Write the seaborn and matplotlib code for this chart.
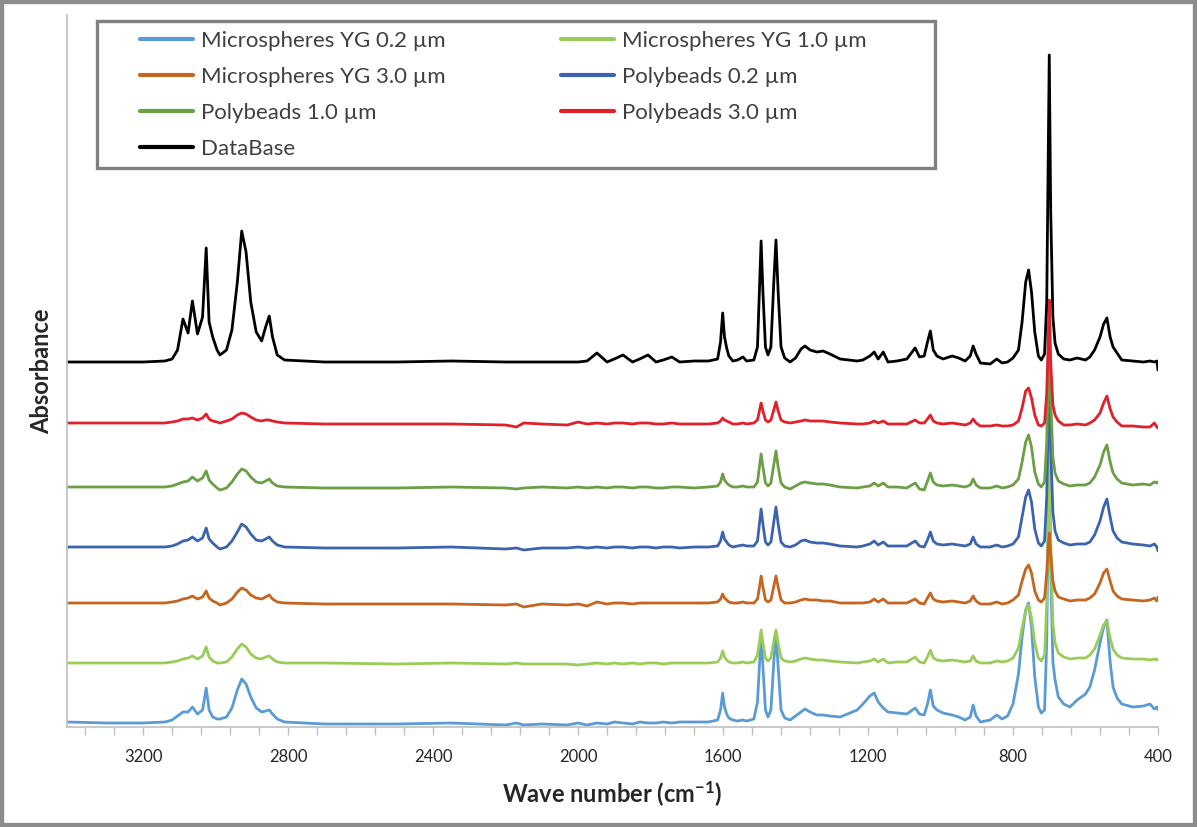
import matplotlib
matplotlib.use("Agg")
import pandas as pd
import matplotlib.pyplot as plt
import seaborn as sns
from matplotlib.patches import Rectangle

# wave numbers (cm-1), descending
wavenumber = [
    # C-H stretch region
    3410, 3300, 3200, 3140, 3120, 3105, 3090, 3076, 3064, 3050, 3036, 3026, 3018, 3008, 2996,
    2988, 2970, 2955, 2940, 2928, 2916, 2903, 2888, 2873, 2862, 2852, 2843, 2830, 2810,
    # overtone region
    2700, 2500, 2350, 2200, 2170, 2150, 2100, 2030, 2000, 1975, 1948, 1920, 1900, 1876, 1850,
    1830, 1807, 1785, 1765, 1741, 1720, 1680, 1640,
    # ring modes
    1615, 1607, 1601, 1596, 1590, 1584, 1573, 1560, 1545, 1535, 1515, 1505, 1499, 1495, 1490,
    1483, 1476, 1468, 1460, 1454, 1448, 1440, 1430, 1415,
    # fingerprint
    1400, 1385, 1374, 1360, 1341, 1324, 1305, 1277, 1230, 1214, 1195, 1183, 1172, 1158, 1145,
    1120, 1093, 1070, 1058, 1045, 1036, 1028, 1020, 1010, 993, 968, 950, 932, 918, 910,
    902, 890, 863, 845,
    # low region
    830, 815, 800, 785, 775, 765, 757, 749, 740, 730, 722, 713, 707, 703, 700,
    696, 690, 684, 675, 660, 643, 623, 600, 588, 575, 560, 550, 541, 532, 524,
    513, 500, 470, 440, 422, 410, 403, 400,
]

# absorbance above each trace's own baseline (arbitrary units)
yg_02 = [
    0, -1, -1, 0, 2, 6, 10, 10, 15, 8, 12, 34, 12, 5, 3,
    3, 5, 14, 32, 43, 38, 25, 14, 10, 11, 12, 8, 3, 0,
    -2, -2, -1, -3, -1, -3, -2, -3, -1, -3, -1, -2, 0, -1, -2,
    0, -1, -1, 0, -1, 0, 0, 0,
    2, 12, 29, 15, 8, 4, 2, 1, 2, 1, 3, 20, 60, 88, 55,
    12, 5, 12, 60, 88, 55, 12, 4, 2,
    6, 10, 13, 10, 7, 7, 6, 5, 12, 18, 26, 29, 20, 14, 10,
    9, 8, 14, 8, 7, 18, 32, 16, 12, 9, 7, 5, 2, 5, 17,
    6, 0, 2, 7,
    3, 6, 18, 48, 85, 112, 119, 95, 45, 15, 9, 12, 80, 200, 300,
    150, 60, 42, 25, 18, 15, 22, 28, 35, 52, 79, 95, 102, 60, 35,
    24, 18, 15, 16, 18, 13, 15, 12,
]
yg_10 = [
    0, 0, 0, 0, 1, 2, 4, 5, 7, 4, 7, 16, 6, 2, 0,
    0, 1, 6, 14, 19, 16, 9, 5, 4, 6, 7, 4, 1, 0,
    0, -1, 0, -1, 0, -1, -1, -1, -2, -1, 0, -1, 0, -1, 0,
    -1, 0, 0, -1, 0, 0, 0, 0,
    1, 5, 12, 6, 3, 1, 0, 0, 1, 0, 1, 8, 22, 33, 20,
    5, 2, 5, 22, 33, 20, 5, 2, 1,
    2, 4, 5, 4, 3, 3, 2, 1, 0, 1, 2, 4, 1, 4, 0,
    1, 1, 6, 1, 0, 6, 13, 5, 3, 2, 3, 2, 1, 2, 7,
    2, 0, 0, 2,
    1, 2, 5, 15, 35, 52, 58, 45, 20, 5, 2, 8, 60, 150, 210,
    120, 40, 20, 10, 6, 4, 5, 5, 8, 14, 28, 38, 42, 25, 14,
    8, 5, 4, 4, 3, 4, 3, 4,
]
yg_30 = [
    0, 0, 0, 0, 1, 2, 4, 5, 7, 4, 6, 12, 5, 2, 0,
    -2, 0, 4, 11, 15, 13, 8, 5, 4, 6, 8, 4, 1, 0,
    -1, -1, -1, -2, -1, -4, -1, -2, -1, -3, 1, -1, 0, 0, -1,
    0, 0, 0, 0, 0, 0, 0, 0,
    1, 4, 9, 5, 3, 1, 0, 0, 1, 0, 0, 4, 17, 27, 16,
    3, 1, 3, 17, 27, 16, 3, 0, 0,
    1, 3, 4, 3, 3, 2, 2, 0, 0, 0, 1, 4, 1, 4, 0,
    0, 0, 4, 0, -1, 5, 10, 4, 2, 1, 2, 1, 0, 2, 7,
    2, -1, -1, 1,
    -1, 0, 3, 8, 22, 34, 38, 30, 12, 3, 1, 5, 30, 55, 70,
    50, 22, 12, 6, 4, 2, 3, 3, 5, 9, 20, 30, 34, 22, 12,
    7, 4, 3, 2, 3, 5, 2, 6,
]
poly_02 = [
    0, 0, 0, 0, 1, 3, 6, 7, 10, 6, 9, 19, 8, 4, 0,
    -2, 0, 6, 15, 23, 20, 13, 7, 6, 8, 10, 6, 2, 0,
    -1, -1, 0, -2, -1, -3, -1, -1, 0, -1, 0, -1, 0, 0, -1,
    0, 0, -1, 0, 0, -1, 0, 0,
    1, 6, 15, 8, 5, 2, 0, 1, 2, 1, 1, 6, 25, 38, 23,
    5, 2, 5, 25, 40, 23, 5, 1, 0,
    2, 6, 7, 5, 4, 4, 3, 1, 0, 1, 3, 6, 2, 5, 1,
    1, 1, 6, 1, 0, 7, 15, 6, 3, 2, 3, 2, 1, 3, 10,
    3, 0, 0, 2,
    0, 1, 3, 10, 30, 50, 57, 45, 18, 4, 1, 6, 50, 130, 190,
    100, 35, 16, 7, 4, 2, 3, 3, 5, 12, 26, 40, 48, 30, 16,
    9, 5, 3, 2, 1, 3, 0, -4,
]
poly_10 = [
    0, 0, 0, 0, 1, 3, 5, 6, 10, 6, 9, 16, 7, 3, -1,
    -3, -1, 5, 13, 18, 16, 10, 5, 4, 6, 8, 4, 1, 0,
    -1, -1, 0, -1, -2, -1, 0, -1, 0, -1, 0, -1, 0, 0, -1,
    0, 0, -1, -1, 0, 0, -1, 0,
    1, 5, 13, 7, 4, 2, 0, 0, 1, 0, 0, 5, 22, 33, 20,
    4, 1, 4, 22, 36, 20, 4, 0, -2,
    1, 4, 5, 4, 3, 3, 2, 0, -1, 0, 1, 4, 1, 4, 0,
    0, -1, 4, -2, -3, 6, 14, 5, 2, 1, 2, 1, 0, 2, 8,
    2, -1, -1, 1,
    -1, 0, 2, 8, 25, 45, 52, 40, 15, 3, 0, 5, 45, 110, 165,
    90, 30, 14, 6, 3, 1, 2, 2, 4, 10, 22, 35, 42, 25, 14,
    8, 4, 2, 3, 2, 5, 4, 5,
]
poly_30 = [
    0, 0, 0, 0, 1, 2, 4, 4, 5, 3, 5, 9, 4, 2, 1,
    0, 2, 4, 8, 10, 9, 6, 3, 2, 3, 3, 2, 1, 0,
    -1, -1, -1, -2, -4, 0, -1, -2, 1, -1, 0, -1, 0, 0, -1,
    0, 0, -1, -1, 0, -1, -1, -1,
    0, 2, 5, 3, 2, 1, -1, -1, 0, -1, 0, 3, 13, 20, 12,
    3, 1, 3, 13, 21, 12, 3, 1, 0,
    1, 2, 3, 2, 2, 2, 1, 0, -1, -1, 0, 2, 0, 2, -1,
    -1, -1, 3, 0, 0, 4, 8, 2, 0, -1, 0, -1, -2, 0, 4,
    0, -3, -3, -2,
    -3, -3, -2, 2, 15, 32, 35, 25, 8, -2, -3, 0, 30, 80, 123,
    60, 18, 8, 2, -2, -2, -1, -2, 0, 3, 10, 20, 27, 14, 6,
    1, -3, -3, -4, -4, 0, -4, -5,
]
database = [
    0, 0, 0, 1, 3, 12, 43, 29, 61, 28, 45, 114, 40, 25, 12,
    7, 12, 32, 80, 131, 110, 60, 30, 21, 35, 46, 25, 7, 2,
    0, 0, 1, 0, 0, 0, 0, 0, 0, 1, 9, 0, 3, 7, 0,
    3, 7, 0, 2, 5, 0, 1, 1,
    3, 20, 49, 25, 14, 6, 1, 2, 5, 1, 2, 15, 80, 121, 70,
    15, 7, 15, 80, 122, 70, 15, 4, 0,
    4, 13, 16, 12, 10, 11, 8, 3, 1, 2, 6, 10, 3, 10, 0,
    1, 3, 14, 5, 6, 20, 31, 12, 6, 3, 6, 4, 1, 6, 16,
    8, -1, -2, 3,
    -1, 0, 4, 12, 40, 80, 92, 70, 30, 6, 2, 8, 60, 200, 307,
    150, 45, 19, 8, 3, 2, 4, 2, 5, 12, 25, 38, 44, 25, 15,
    9, 2, 1, 0, 1, 0, 1, -8,
]

labels = ["Microspheres YG 0.2 µm", "Microspheres YG 1.0 µm", "Microspheres YG 3.0 µm",
          "Polybeads 0.2 µm", "Polybeads 1.0 µm", "Polybeads 3.0 µm", "DataBase"]
spectra = [yg_02, yg_10, yg_30, poly_02, poly_10, poly_30, database]
offsets = [5, 64, 124, 180, 240, 304, 365]
colors = ["#5B9BD5", "#9ACD58", "#C5651F", "#3C64AE", "#6B9F45", "#E0202A", "#000000"]

sns.set_style("white")
plt.rcParams["font.family"] = ["Lato", "DejaVu Sans"]
plt.rcParams["mathtext.default"] = "regular"

fig = plt.figure(figsize=(11.97, 8.27), dpi=100)
ax = fig.add_axes([67 / 1197, 100 / 827, 1091 / 1197, 712 / 827])

for lab, vals, off, col in zip(labels, spectra, offsets, colors):
    assert len(vals) == len(wavenumber), lab
    d = pd.DataFrame({"wavenumber": wavenumber, "absorbance": [v + off for v in vals]})
    sns.lineplot(data=d, x="wavenumber", y="absorbance", color=col, lw=2.0,
                 estimator=None, sort=False, label=lab, legend=False, ax=ax)

ax.set_xlim(3410, 400)
ax.set_ylim(0, 712)
ax.set_xticks(range(400, 3201, 400))
ax.set_xticks(range(400, 3400, 80), minor=True)
ax.set_yticks([])
ax.tick_params(axis="x", which="both", direction="out", length=6, width=1,
               color="#BFBFBF", bottom=True, pad=10, labelsize=12, labelcolor="#262626")
for s in ["top", "right"]:
    ax.spines[s].set_visible(False)
for s in ["left", "bottom"]:
    ax.spines[s].set_color("#BFBFBF")
    ax.spines[s].set_linewidth(1.2)

ax.set_xlabel("Wave number (cm$^{-1}$)", fontsize=17, fontweight="bold", labelpad=10)
ax.set_ylabel("Absorbance", fontsize=17, fontweight="bold", labelpad=10)

# legend box, drawn inside the axes so the legend can sit on top of it
box = Rectangle((97 / 1197, 1 - 168 / 827), 838 / 1197, 147 / 827,
                transform=fig.transFigure, facecolor="white", edgecolor="#808080",
                lw=2.4, zorder=5, clip_on=False)
ax.add_patch(box)
handles = ax.get_lines()
order = [0, 2, 4, 6, 1, 3, 5]
leg = ax.legend([handles[i] for i in order], [labels[i] for i in order], ncol=2,
                loc="upper left", bbox_to_anchor=(140 / 1197, 1 - 31 / 827),
                bbox_transform=fig.transFigure, frameon=False, fontsize=16,
                handlelength=2.4, handletextpad=0.33, columnspacing=5.2,
                labelspacing=0.72, borderpad=0, borderaxespad=0)
for t in leg.get_texts():
    t.set_color("#404040")
for h in leg.get_lines():
    h.set_linewidth(3)
leg.set_zorder(6)

# outer frame
fig.patches.append(Rectangle((0, 0), 1, 1, transform=fig.transFigure, fill=False,
                             edgecolor="#8C8C8C", lw=6, zorder=10))

fig.savefig("out.png", dpi=100)
